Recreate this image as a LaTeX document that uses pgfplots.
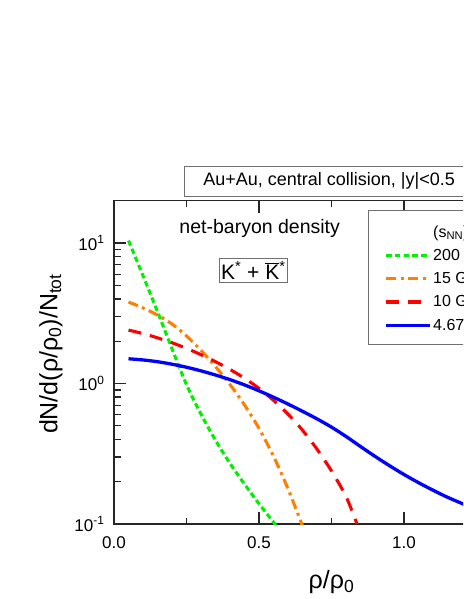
\documentclass[border=0pt]{standalone}
\usepackage{fontspec}
\setmainfont{Liberation Sans}
\usepackage{pgfplots}
\pgfplotsset{compat=1.18}
\definecolor{cGreen}{HTML}{00F000}
\definecolor{cOrange}{HTML}{FF8000}
\definecolor{cRed}{HTML}{FF0000}
\definecolor{cBlue}{HTML}{0000FF}
\definecolor{cFrame}{HTML}{707070}

\begin{document}
\begin{tikzpicture}[x=1pt,y=1pt]
  \useasboundingbox (0,0) rectangle (463,599);
  \clip (0,0) rectangle (463,599);
  \begin{axis}[
    at={(114pt,75pt)}, anchor=south west,
    scale only axis, width=435pt, height=323.3pt,
    xmin=0, xmax=1.5, ymode=log, ymin=0.1, ymax=20,
    xtick={0,0.5,1,1.5}, minor xtick={0.25,0.75,1.25},
    ytick={0.1,1,10},
    yticklabels={10\textsuperscript{-1},10\textsuperscript{0},10\textsuperscript{1}},
    /pgf/number format/assume math mode=true,
    xticklabel style={/pgf/number format/fixed, /pgf/number format/fixed zerofill,
                      /pgf/number format/precision=1, yshift=-9pt},
    yticklabel style={xshift=-6pt},
    tick label style={font=\fontsize{17}{19}\selectfont},
    tick align=inside,
    major tick length=12pt, minor tick length=6.5pt,
    axis line style={line width=1.3pt, black!85},
    every tick/.style={line width=1.3pt, black!85},
    xlabel={ρ/ρ\textsubscript{0}},
    ylabel={dN/d(ρ/ρ\textsubscript{0})/N\textsubscript{tot}},
    label style={font=\fontsize{25}{28}\selectfont},
    xlabel style={at={(axis description cs:0.5,-0.201)}, anchor=base},
    ylabel style={at={(axis description cs:-0.145,0.526)}, anchor=center},
    no markers,
    every axis plot/.append style={smooth, tension=0.5},
    legend image code/.code={\draw[#1, sharp plot] (0pt,0pt) -- (44pt,0pt);},
    legend style={at={(axis description cs:0.584,0.971)}, anchor=north west,
                  draw=cFrame, line width=0.8pt,
                  font=\fontsize{16}{18}\selectfont,
                  inner xsep=16pt, inner ysep=10.5pt, row sep=6.5pt,
                  nodes={inner xsep=1.5pt, inner ysep=2pt}},
    legend cell align=left,
  ]
    \addlegendimage{empty legend}
    \addlegendentry{(s\textsubscript{NN})\textsuperscript{1/2}}

    \addplot[cGreen, line width=3.1pt, dash pattern=on 5.5pt off 3.3pt] coordinates {
      (0.05,10.4) (0.10,5.85) (0.15,3.25) (0.20,1.766) (0.25,0.982)
      (0.30,0.605) (0.35,0.395) (0.40,0.270) (0.45,0.1925) (0.50,0.1395)
      (0.56,0.097)};
    \addlegendentry{200 GeV}

    \addplot[cOrange, line width=3.1pt, dash pattern=on 10pt off 4.5pt on 3pt off 4.5pt] coordinates {
      (0.05,3.80) (0.10,3.45) (0.15,3.07) (0.20,2.65) (0.25,2.18) (0.30,1.72)
      (0.35,1.318) (0.40,0.983) (0.45,0.704) (0.50,0.479) (0.55,0.304)
      (0.60,0.178) (0.65,0.097)};
    \addlegendentry{15 GeV}

    \addplot[cRed, line width=3.1pt, dash pattern=on 13pt off 9pt] coordinates {
      (0.05,2.40) (0.10,2.265) (0.15,2.113) (0.20,1.95) (0.25,1.778)
      (0.30,1.603) (0.35,1.429) (0.40,1.259) (0.45,1.09) (0.50,0.923)
      (0.55,0.759) (0.60,0.606) (0.65,0.465) (0.70,0.341) (0.75,0.2385)
      (0.80,0.157) (0.838,0.10)};
    \addlegendentry{10 GeV}

    \addplot[cBlue, line width=3.3pt] coordinates {
      (0.05,1.50) (0.10,1.471) (0.15,1.429) (0.20,1.372) (0.25,1.305)
      (0.30,1.230) (0.35,1.149) (0.40,1.065) (0.45,0.977) (0.50,0.887)
      (0.55,0.799) (0.60,0.714) (0.65,0.634) (0.70,0.560) (0.75,0.489)
      (0.80,0.420) (0.85,0.356) (0.90,0.303) (0.95,0.260) (1.00,0.225)
      (1.05,0.197) (1.10,0.174) (1.15,0.155) (1.20,0.140) (1.25,0.127)
      (1.30,0.116) (1.40,0.0987) (1.50,0.086)};
    \addlegendentry{4.67 GeV}
  \end{axis}

  \node[draw=cFrame, line width=0.8pt, anchor=west, minimum height=30.7pt,
        inner xsep=19pt, font=\fontsize{18}{22}\selectfont]
        at (184,417.7) {Au+Au, central collision, |y|<0.5};
  \node[anchor=base, font=\fontsize{19.5}{22}\selectfont]
        at (259.7,365) {net-baryon density};
  \node[draw=cFrame, line width=0.8pt, minimum width=68pt, minimum height=24.4pt,
        inner sep=2pt, font=\fontsize{21}{24}\selectfont]
        at (253.3,328.5) {K\textsuperscript{*} + $\overline{\mbox{K}}$\textsuperscript{*}};
\end{tikzpicture}
\end{document}
